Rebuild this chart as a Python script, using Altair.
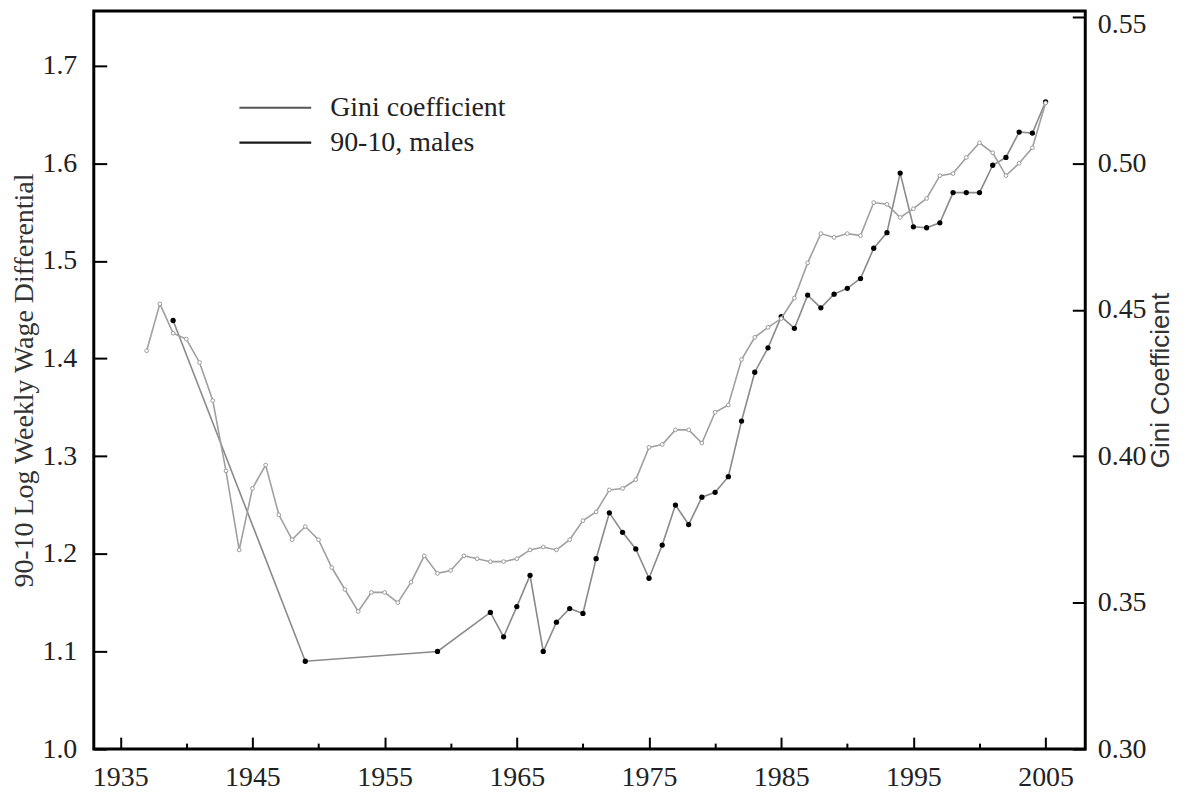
import altair as alt
import pandas as pd

# ---------------- data ----------------
legend_labels = ["Gini coefficient", "90-10, males"]

gini_years = list(range(1937, 2006))
gini_values = [
    0.436, 0.452, 0.442, 0.440, 0.432, 0.419, 0.395, 0.368, 0.389, 0.397,   # 1937-1946
    0.380, 0.3715, 0.376, 0.3715, 0.362, 0.3545, 0.347, 0.3535, 0.3535, 0.350,  # 1947-1956
    0.357, 0.366, 0.360, 0.361, 0.366, 0.365, 0.364, 0.364, 0.365, 0.368,   # 1957-1966
    0.369, 0.368, 0.3715, 0.378, 0.381, 0.3885, 0.389, 0.392, 0.403, 0.404, # 1967-1976
    0.409, 0.409, 0.4045, 0.415, 0.4175, 0.433, 0.4406, 0.444, 0.447, 0.454, # 1977-1986
    0.466, 0.476, 0.4747, 0.476, 0.4753, 0.4866, 0.486, 0.4815, 0.4845, 0.488, # 1987-1996
    0.4958, 0.4965, 0.502, 0.507, 0.5036, 0.4958, 0.500, 0.5053, 0.5206,    # 1997-2005
]

wage_years = [1939, 1949, 1959] + list(range(1963, 2006))
wage_values = [
    1.439, 1.090, 1.100,
    1.140, 1.115, 1.146, 1.178, 1.100, 1.130, 1.144, 1.139, 1.195, 1.242,   # 1963-1972
    1.222, 1.205, 1.175, 1.209, 1.250, 1.230, 1.258, 1.263, 1.279, 1.336,   # 1973-1982
    1.386, 1.411, 1.443, 1.431, 1.465, 1.452, 1.466, 1.472, 1.482, 1.513,   # 1983-1992
    1.529, 1.590, 1.535, 1.534, 1.539, 1.570, 1.570, 1.570, 1.598, 1.606,   # 1993-2002
    1.632, 1.631, 1.663,                                                    # 2003-2005
]

x_major_ticks = [1935, 1945, 1955, 1965, 1975, 1985, 1995, 2005]
x_minor_ticks = [1940, 1950, 1960, 1970, 1980, 1990, 2000]
left_ticks = [1.0, 1.1, 1.2, 1.3, 1.4, 1.5, 1.6, 1.7]
right_ticks = [0.30, 0.35, 0.40, 0.45, 0.50, 0.55]

gini_df = pd.DataFrame({"year": gini_years, "value": gini_values, "series": legend_labels[0]})
wage_df = pd.DataFrame({"year": wage_years, "value": wage_values, "series": legend_labels[1]})

# ---------------- styling ----------------
SERIF = "Liberation Serif"
SANS = "Liberation Sans"
TXT = "#222222"

x_scale = alt.Scale(domain=[1933, 2008], nice=False, zero=False)
yl_scale = alt.Scale(domain=[1.0, 1.756], nice=False, zero=False)
yr_scale = alt.Scale(domain=[0.30, 0.552], nice=False, zero=False)

legend = alt.Legend(
    title=None, orient="none", legendX=168, legendY=83, direction="vertical",
    symbolType="M-3,0L3,0", symbolSize=576, symbolStrokeWidth=2.2,
    symbolFillColor="transparent",
    labelFont=SERIF, labelFontSize=28, labelColor=TXT, labelOffset=41,
    labelLimit=0, rowPadding=7, padding=0,
)
# legend colours (the plotted lines are drawn lighter via their own stroke)
color = alt.Color(
    "series:N",
    scale=alt.Scale(domain=legend_labels, range=["#555555", "#1a1a1a"]),
    legend=legend,
)

x_major_axis = alt.Axis(
    orient="bottom", values=x_major_ticks, format="d", title=None, grid=False,
    domain=False, tickSize=12, offset=-12, tickColor="black", tickWidth=2,
    labelFont=SERIF, labelFontSize=28, labelColor=TXT, labelPadding=14,
    labelFlush=False,
)
x_minor_axis = alt.Axis(
    orient="bottom", values=x_minor_ticks, labels=False, title=None, grid=False,
    domain=False, tickSize=6, offset=-6, tickColor="black", tickWidth=2,
)
left_axis = alt.Axis(
    orient="left", values=left_ticks, format=".1f", grid=False, domain=False,
    tickSize=13, offset=-13, tickColor="black", tickWidth=2,
    labelFont=SERIF, labelFontSize=28, labelColor=TXT, labelPadding=17,
    labelFlush=False,
    title="90-10 Log Weekly Wage Differential", titleFont=SERIF,
    titleFontSize=28, titleFontWeight="normal", titleColor="#333333",
    titlePadding=3,
)
right_axis = alt.Axis(
    orient="right", values=right_ticks, format=".2f", grid=False, domain=False,
    tickSize=13, offset=-13, tickColor="black", tickWidth=2,
    labelFont=SERIF, labelFontSize=28, labelColor=TXT, labelPadding=12,
    labelFlush=False,
    labelBaseline={"condition": {"test": "datum.value >= 0.549", "value": "top"}, "value": "middle"},
    labelOffset={"condition": {"test": "datum.value >= 0.549", "value": -6}, "value": 0},
    title="Gini Coefficient", titleFont=SANS, titleFontSize=26,
    titleFontWeight="normal", titleColor="#333333", titleAngle=270,
    titlePadding=27,
)

gini_chart = alt.Chart(gini_df).mark_line(
    stroke="#a0a0a0", strokeWidth=1.6,
    point=alt.OverlayMarkDef(filled=True, fill="white", stroke="#9a9a9a", strokeWidth=1, size=14),
).encode(
    x=alt.X("year:Q", scale=x_scale, axis=x_major_axis),
    y=alt.Y("value:Q", scale=yr_scale, axis=right_axis),
    color=color,
)

wage_chart = alt.Chart(wage_df).mark_line(
    stroke="#8a8a8a", strokeWidth=1.6,
    point=alt.OverlayMarkDef(filled=True, fill="black", stroke="black", strokeWidth=0, size=28),
).encode(
    x=alt.X("year:Q", scale=x_scale, axis=x_minor_axis),
    y=alt.Y("value:Q", scale=yl_scale, axis=left_axis),
    color=color,
)

chart = (
    alt.layer(wage_chart, gini_chart)
    .resolve_scale(y="independent")
    .resolve_axis(x="independent", y="independent")
    .properties(
        width=994, height=740,
        autosize=alt.AutoSizeParams(type="none"),
        padding={"left": 86, "top": 2, "right": 100, "bottom": 45},
        background="white",
    )
    .configure_view(stroke="black", strokeWidth=3)
)

chart.save("out.html", embed_options={"renderer": "svg", "actions": False})
